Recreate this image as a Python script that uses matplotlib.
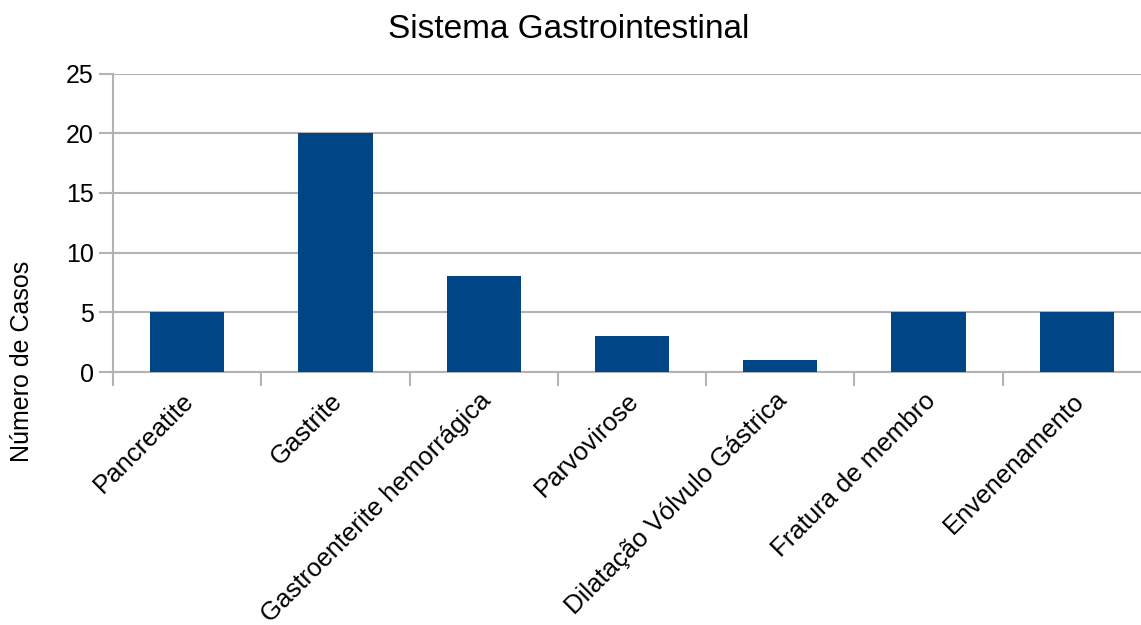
import matplotlib.pyplot as plt
import numpy as np

plt.rcParams['font.family'] = ['Liberation Sans', 'DejaVu Sans']

categorias = ['Pancreatite', 'Gastrite', 'Gastroenterite hemorrágica', 'Parvovirose',
              'Dilatação Vólvulo Gástrica', 'Fratura de membro', 'Envenenamento']
casos = [5, 20, 8, 3, 1, 5, 5]
yticks = [0, 5, 10, 15, 20, 25]

W, H = 1141, 625
fig = plt.figure(figsize=(W / 100, H / 100), dpi=100)
# plot area: left 113 px, right runs past the image edge (cropped like the source)
left, right, top, bottom = 113, 1151, 73.5, 372
ax = fig.add_axes([left / W, 1 - bottom / H, (right - left) / W, (bottom - top) / H])

x = np.arange(len(categorias))
ax.bar(x, casos, width=0.5, color='#004586', zorder=3)

ax.set_xlim(-0.5, len(categorias) - 0.5)
ax.set_ylim(0, 25)
ax.set_yticks(yticks)
ax.yaxis.grid(True, color='#b3b3b3', linewidth=1.5, zorder=0)

# label anchors nudged a little left of the bar centres (major ticks are invisible)
ax.set_xticks(x - 0.035)
ax.set_xticklabels(categorias, rotation=45, ha='right', va='top',
                   rotation_mode='anchor', fontsize=18.5)
ax.set_xticks(np.arange(len(categorias)) - 0.5, minor=True)
ax.tick_params(axis='x', which='major', length=0, pad=12)
ax.tick_params(axis='x', which='minor', length=10, width=1.5, color='#b3b3b3')
ax.tick_params(axis='y', length=10, width=1.5, color='#b3b3b3', labelsize=18, pad=4)

for s in ['top', 'right']:
    ax.spines[s].set_visible(False)
for s in ['left', 'bottom']:
    ax.spines[s].set_color('#b3b3b3')
    ax.spines[s].set_linewidth(1.5)

fig.text(569 / W, 1 - 30 / H, 'Sistema Gastrointestinal', ha='center', va='center', fontsize=24)
fig.text(22 / W, 1 - 361 / H, 'Número de Casos', rotation=90, ha='center', va='center', fontsize=18)

fig.savefig('out.png', dpi=100)
